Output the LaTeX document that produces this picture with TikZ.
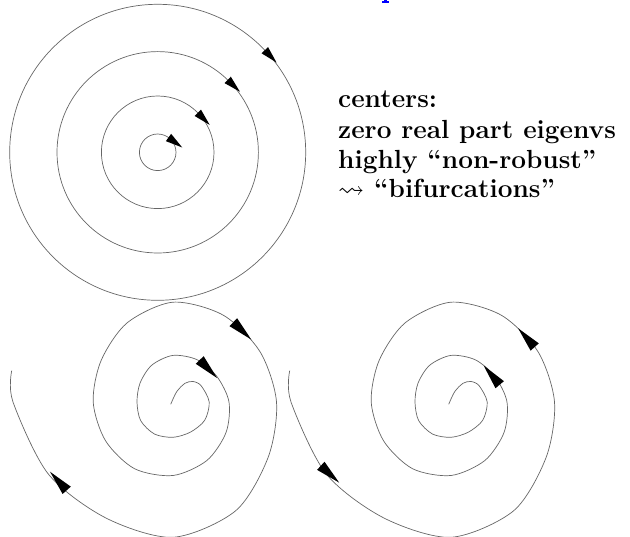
\documentclass[tikz,border=0pt]{standalone}
\usepackage{fontspec}
\usepackage{amssymb}
\begin{document}
\tikzset{
  curve/.style={draw=black!60, line width=0.7pt},
  head/.style={fill=black},
  lbl/.style={anchor=base west, inner sep=0pt, font=\fontsize{26.2}{30}\selectfont\bfseries},
}
\newcommand\ahead[5]{% x, y, direction, length, half width
  \fill[head] ([shift={(#3+90:#5)}]#1,#2) -- ([shift={(#3:#4)}]#1,#2) -- ([shift={(#3-90:#5)}]#1,#2) -- cycle;}
\begin{tikzpicture}[x=1pt,y=-1pt]
\useasboundingbox (0,0) rectangle (630,537);
% foot of the blue title letter cut by the top edge
\fill[blue] (384,0) rectangle (387.3,1.6);
\fill[blue] (381.7,1.3) rectangle (389.3,3.3);
% centers
\coordinate (c) at (157.7,152.3);
\draw[curve] (c) circle[radius=18.3];
\draw[curve] (c) circle[radius=56.3];
\draw[curve] (c) circle[radius=100.7];
\draw[curve] (c) circle[radius=148];
\ahead{168.5}{137.5}{36}{17}{4.5}
\ahead{197.8}{112.8}{45.5}{17}{4.5}
\ahead{227.7}{79.9}{44}{17}{4.5}
\ahead{264.8}{50.2}{46.4}{17}{4.5}
% text
\node[lbl] (t1) at (338,108) {centers:};
\node[lbl] (t2) at (338,139) {zero real part eigenvs};
\node[lbl] (t3) at (338,169) {highly ``non-robust''};
\node[lbl] (t4) at (338,198) {$\leadsto$ ``bifurcations''};
% spirals
\foreach \cx in {173,451}{
\begin{scope}[shift={(\cx,402)}]
\draw[curve] plot[smooth] coordinates {
(-2.3,2.3) (3.7,-10.3) (12,-18.7) (20,-20.5) (-30:32.5)
(0:36.2) (30:36.6) (60:34.8) (90:35.3) (120:37) (150:37.3) (180:36) (210:38)
(240:42.5) (270:46.6) (300:48.7) (330:50.8) (360:56) (390:61.2) (420:67.6)
(450:73.5) (480:77) (510:77.8) (540:79.8) (570:83) (600:91.5) (630:99.8)
(660:100.3) (690:100.5) (720:103.5) (750:110) (780:125.5) (810:135.3)
(840:134) (870:144) (900:160) (911:164.3)};
\end{scope}}
% unstable spiral arrows (outward)
\ahead{233.3}{322.2}{44}{25}{5.5}
\ahead{199.7}{360}{46}{25}{5.5}
\ahead{66.7}{490.3}{228}{25}{5.5}
% stable spiral arrows (inward)
\ahead{534.7}{347}{228.4}{25}{5.5}
\ahead{499.7}{384.7}{230}{25}{5.5}
\ahead{320.8}{465.8}{42.5}{25}{5.5}
\end{tikzpicture}
\end{document}
